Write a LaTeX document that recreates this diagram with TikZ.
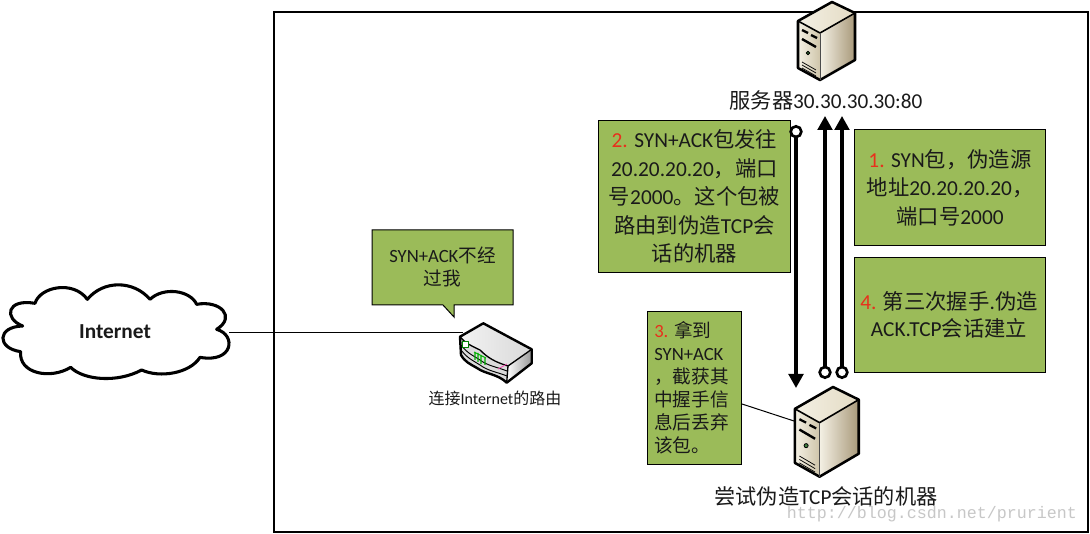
\documentclass[tikz,border=0pt]{standalone}
\usepackage{fontspec}
\setmainfont{Carlito}
\newfontfamily\cjk{Noto Sans CJK SC}
\newfontfamily\wmfont{Liberation Mono}
\usetikzlibrary{arrows.meta}
\definecolor{boxgreen}{HTML}{9BBB59}
\definecolor{numred}{HTML}{E8301C}
\definecolor{inktext}{HTML}{1A1A1A}
\definecolor{srvlight}{HTML}{F4F0E4}
\definecolor{srvmid}{HTML}{E3DBC4}
\definecolor{srvdark}{HTML}{A8997A}
\definecolor{srvfront}{HTML}{CFC5AA}
\newcommand{\redn}[1]{\textcolor{numred}{#1}}
\newcommand{\serverpic}[2]{%
\begin{scope}[shift={(#1)},#2,line join=round]
 \shade[left color=srvlight,right color=srvmid] (0,0)--(23,11)--(-12,31)--(-34,19)--cycle;
 \shade[left color=srvlight,right color=srvdark] (-12,31)--(23,11)--(23,58)--(-12,78)--cycle;
 \shade[left color=srvlight,right color=srvfront] (-34,19)--(-12,31)--(-12,78)--(-34,66)--cycle;
 \draw[line width=1.9pt,line cap=round] (0,0)--(23,11)--(23,58)--(-12,78)--(-34,66)--(-34,19)--cycle;
 \draw[line width=1.2pt] (-34,19)--(-12,31)--(23,11);
 \draw[line width=.5pt,black!70] (-12,31)--(-12,78);
 \draw[line width=1.7pt] (-30,28)--(-24,31) (-21,33)--(-15,36);
 \draw[line width=1.8pt] (-30,37)--(-16,45);
 \draw[fill=black!50!green!50!gray,line width=.6pt] (-24,51) circle (1.8);
 \draw[line width=.55pt] (-30,60)--(-16,68) (-30,63)--(-16,71) (-30,66)--(-16,74);
\end{scope}}
\tikzset{
 greenbox/.style={draw=black,line width=.75pt,fill=boxgreen},
 boxtext/.style={text=inktext,align=center,font=\fontsize{16}{21.4}\selectfont,inner sep=0pt},
 tighttext/.style={text=inktext,font=\fontsize{14}{17.3}\selectfont,inner sep=0pt},
 caption/.style={text=inktext,inner sep=0pt,font=\fontsize{15.9}{18}\selectfont},
 link/.style={line width=.75pt},
 flow/.style={line width=2.3pt,{Circle[open,fill=white,length=10pt,width=10pt,line width=2pt]}-{Triangle[length=10.5pt,width=11pt]}}
}
\begin{document}
\begin{tikzpicture}[x=.75pt,y=-.75pt]
\useasboundingbox (0,0) rectangle (1090,534);
\fill[white] (0,0) rectangle (1090,534);
% frame
\draw[line width=.9pt] (274,12) rectangle (1088,532);
% cloud
\coordinate (cloudport) at (229,333);
\coordinate (routerport) at (463,333);
\draw[link] (cloudport)--(routerport);
\begin{scope}[shift={(0,270)},scale=1/3]
\draw[line width=2.3pt,fill=white,line join=round]
 (105,100) .. controls (120,50) and (220,30) .. (262,88)
 .. controls (310,30) and (400,30) .. (450,88)
 .. controls (490,50) and (570,60) .. (590,103)
 .. controls (660,90) and (710,140) .. (650,178)
 .. controls (710,195) and (700,280) .. (600,262)
 .. controls (570,310) and (480,325) .. (425,300)
 .. controls (350,340) and (250,330) .. (212,292)
 .. controls (150,330) and (55,310) .. (62,245)
 .. controls (-10,235) and (-10,170) .. (68,168)
 .. controls (10,145) and (20,85) .. (105,100) -- cycle;
\end{scope}
\node[inner sep=0pt,font=\fontsize{16}{18}\selectfont\bfseries,text=inktext] (internet) at (115,332) {Internet};
% router
\begin{scope}[line join=round]
 \shade[left color=white!95!black,right color=black!15] (460,336.7)--(483.3,323.3)--(531.7,349.3)--(508,366) .. controls (495,362) and (488,358) .. (480,350) .. controls (472,346) and (466,344) .. cycle;
 \shade[left color=white,right color=black!40] (508,366)--(531.7,349.3)--(531.7,363.3)--(506.7,382.7)--cycle;
 \fill[black!14] (460,336.7) .. controls (466,344) and (472,346) .. (480,350) .. controls (488,358) and (495,362) .. (508,366)--(506.7,382.7) .. controls (498,374) and (485,374) .. (477,368) .. controls (470,364) and (465,362) .. (461,355)--cycle;
 \draw[line width=1.8pt] (460,336.7)--(483.3,323.3)--(531.7,349.3)--(531.7,363.3)--(506.7,382.7) .. controls (498,374) and (485,374) .. (477,368) .. controls (470,364) and (465,362) .. (461,355)--cycle;
 \draw[line width=1pt] (460,336.7) .. controls (466,344) and (472,346) .. (480,350) .. controls (488,358) and (495,362) .. (508,366)--(531.7,349.3) (508,366)--(506.7,382.7);
 \draw[line width=.7pt] (461,345) .. controls (468,354) and (474,356) .. (480,360) .. controls (488,366) and (497,367) .. (507,371);
 \draw[line width=.7pt] (461,350) .. controls (468,359) and (474,361) .. (480,365) .. controls (488,371) and (497,372) .. (507,376);
 \draw[green!50!black,fill=white,line width=.7pt] (462.5,341) rectangle (468,347);
 \draw[green!70!black,line width=.8pt] (475,352)--(475,360) (478,353)--(478,362) (481,355)--(481,364) (485,357)--(485,365) (474,352)--(486,358);
 \draw[magenta!70,line width=.6pt] (498,369)--(507,364);
\end{scope}
\node[inner sep=0pt,text=inktext,font=\fontsize{12}{14}\selectfont] (routerlabel) at (495,398) {{\cjk 连接}Internet{\cjk 的路由}};
% callout
\draw[greenbox,line join=miter] (372,230)--(513,230)--(513,305)--(454,305)--(454,317)--(443,305)--(372,305)--cycle;
\node[tighttext,align=center] (calloutlabel) at (442.5,267) {SYN+ACK{\cjk 不经}\\{\cjk 过我}};
% servers
\serverpic{832,2}{}
\node[caption] (serverlabel) at (826,100) {{\cjk 服务器}30.30.30.30:80};
\coordinate (clientlink) at (794,421);
\node[greenbox,minimum width=0pt,inner sep=0pt,anchor=north west] (boxthree) at (647,311) {\tikz[x=.75pt,y=.75pt]\path (0,0) rectangle (94,153);};
\draw[link] (boxthree.east |- 0,404)--(clientlink);
\serverpic{833,387}{xscale=1.12,yscale=1.15}
\node[caption] (clientlabel) at (826,496) {{\cjk 尝试伪造}TCP{\cjk 会话的机器}};
% boxes
\node[greenbox,inner sep=0pt,anchor=north west] (boxtwo) at (598,120) {\tikz[x=.75pt,y=.75pt]\path (0,0) rectangle (192,152);};
\node[greenbox,inner sep=0pt,anchor=north west] (boxone) at (854,129) {\tikz[x=.75pt,y=.75pt]\path (0,0) rectangle (191,116);};
\node[greenbox,inner sep=0pt,anchor=north west] (boxfour) at (854,257) {\tikz[x=.75pt,y=.75pt]\path (0,0) rectangle (191,115);};
\node[boxtext] (texttwo) at (boxtwo.center) {\redn{2.} SYN+ACK{\cjk 包发往}\\20.20.20.20{\cjk ，端口}\\{\cjk 号}2000{\cjk 。这个包被}\\{\cjk 路由到伪造}TCP{\cjk 会}\\{\cjk 话的机器}};
\node[boxtext] (textone) at (boxone.center) {\redn{1.} SYN{\cjk 包，伪造源}\\{\cjk 地址}20.20.20.20{\cjk ，}\\{\cjk 端口号}2000};
\node[boxtext,font=\fontsize{16}{20.3}\selectfont] (textfour) at (949,315) {\redn{4.} {\cjk 第三次握手}.{\cjk 伪造}\\ACK.TCP{\cjk 会话建立}};
\node[tighttext,align=left,anchor=north west] (textthree) at (654,321) {\redn{3.} {\cjk 拿到}\\SYN+ACK\\{\cjk ，截获其}\\{\cjk 中握手信}\\{\cjk 息后丢弃}\\{\cjk 该包。}};
% flows
\coordinate (aTop) at (796,125);
\coordinate (aBot) at (796,388);
\coordinate (bTop) at (825,116);
\coordinate (bBot) at (825,379);
\coordinate (cTop) at (842,116);
\coordinate (cBot) at (842,379);
\draw[flow] (aTop)--(aBot);
\draw[flow] (bBot)--(bTop);
\draw[flow] (cBot)--(cTop);
% watermark
\node[inner sep=0pt,text=black!22,font=\fontsize{12.5}{14}\wmfont] (watermark) at (932,514) {http://blog.csdn.net/prurient};
\end{tikzpicture}
\end{document}
